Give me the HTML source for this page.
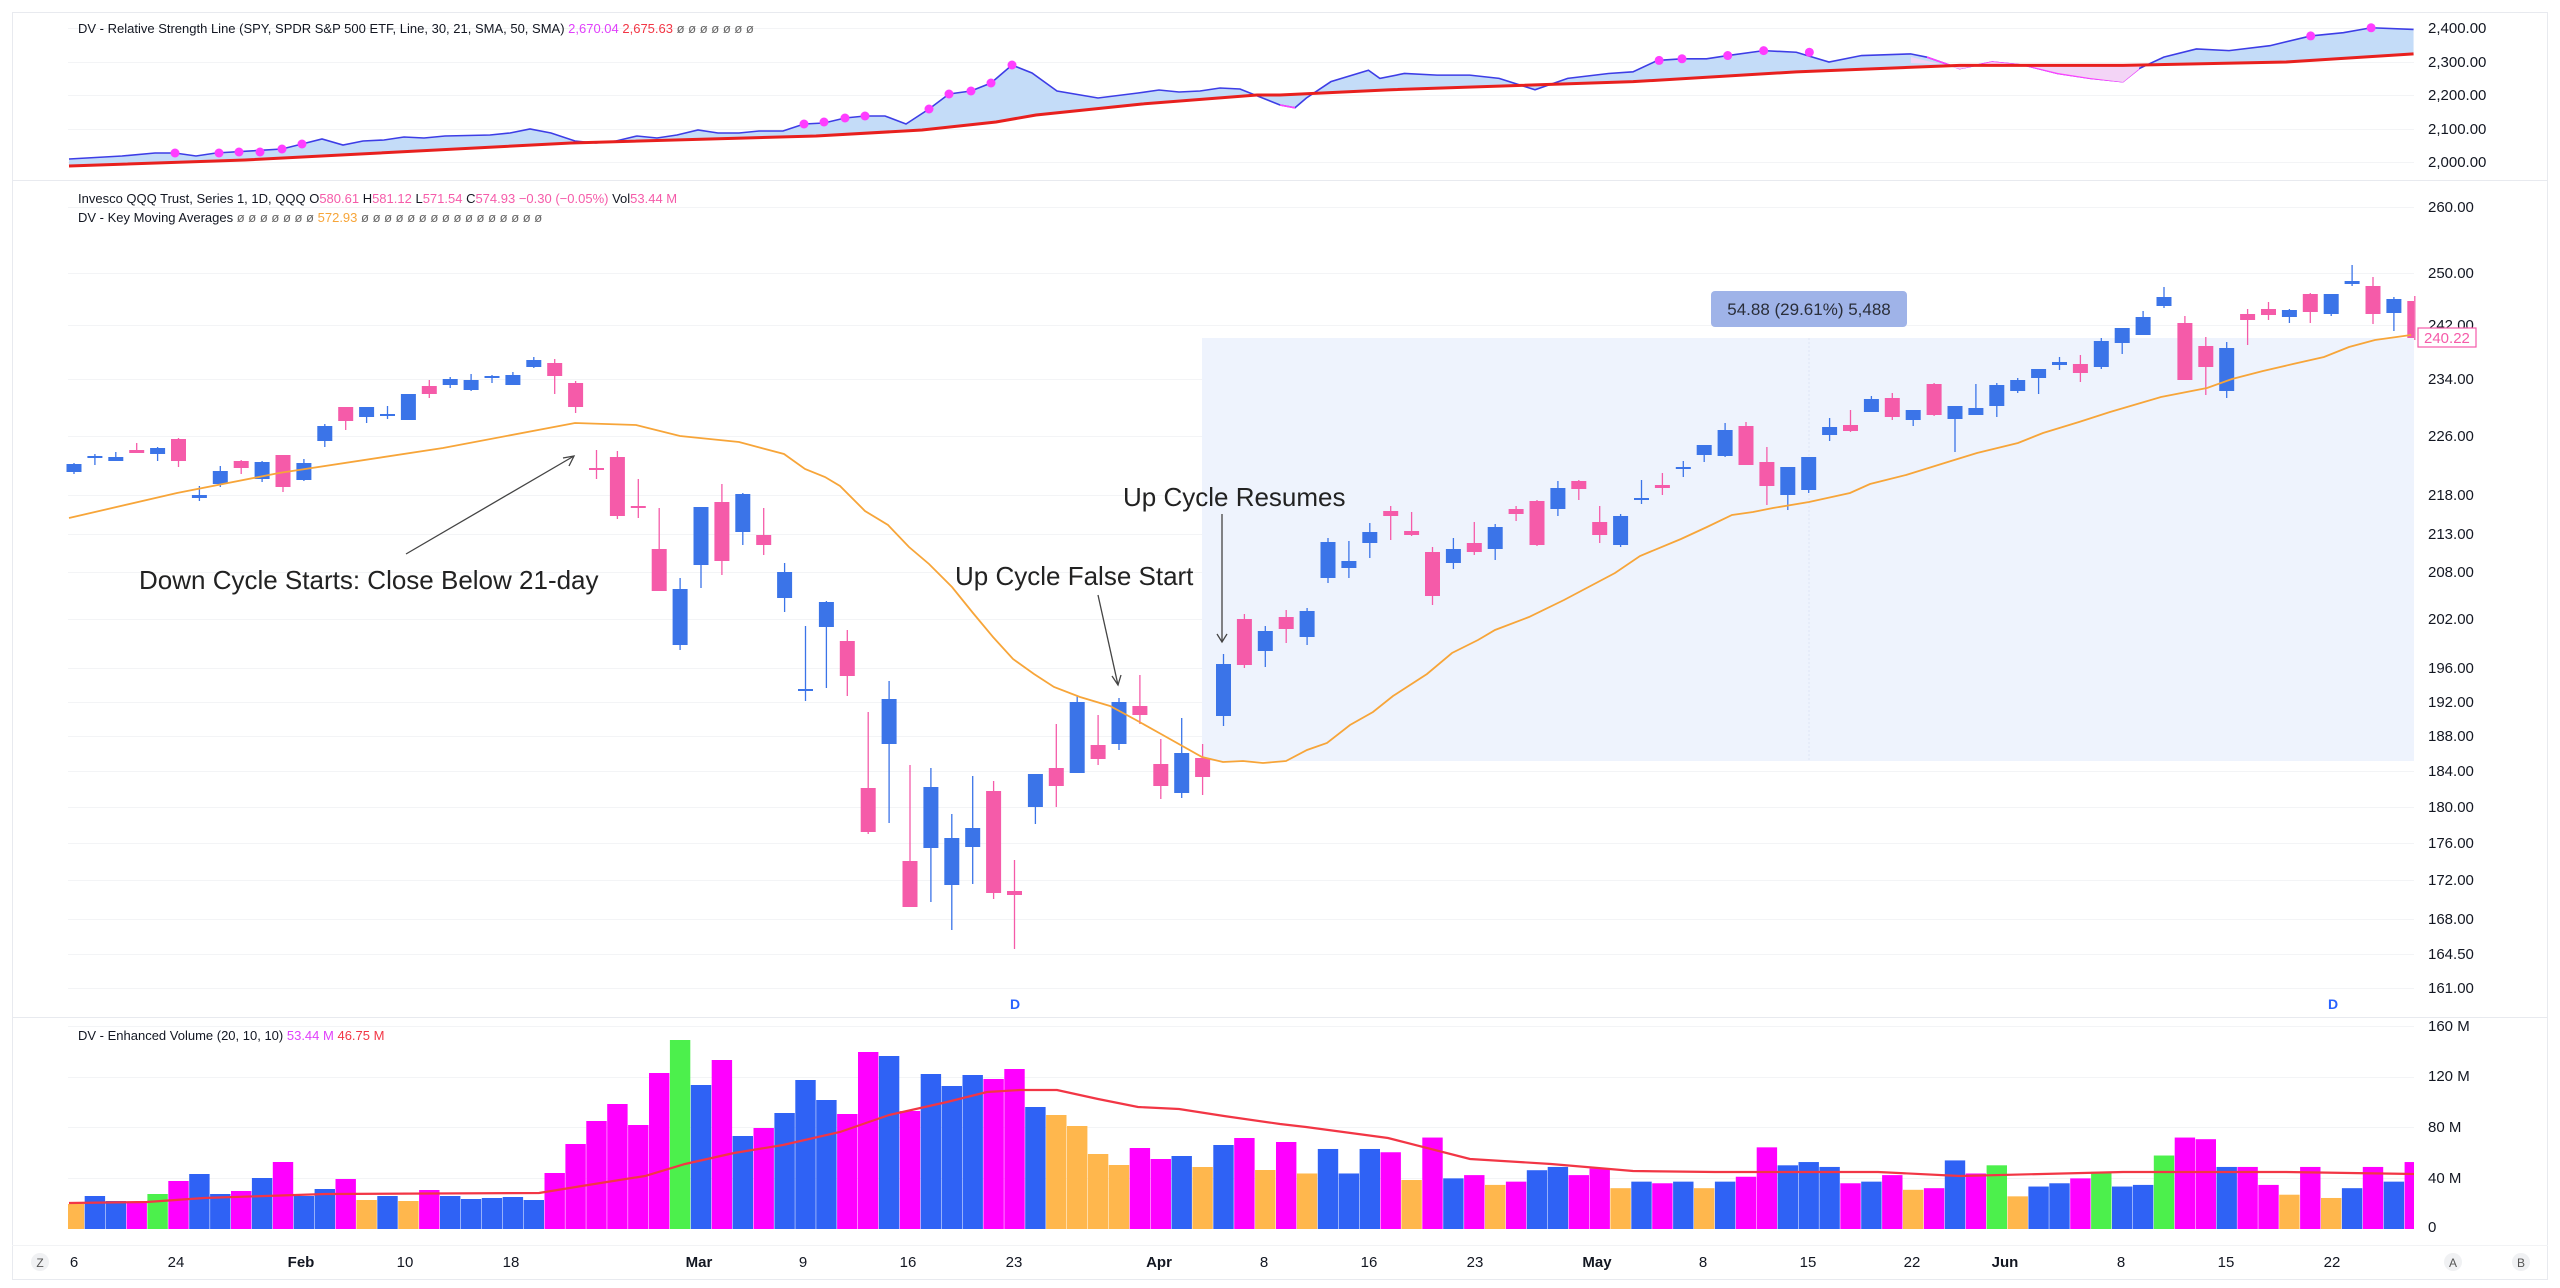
<!DOCTYPE html>
<html><head><meta charset="utf-8">
<style>
html,body{margin:0;padding:0;background:#fff;}
svg{display:block;font-family:"Liberation Sans",sans-serif;}
</style></head>
<body>
<svg id="s" width="2560" height="1288" viewBox="0 0 2560 1288" xmlns="http://www.w3.org/2000/svg">
<rect x="0" y="0" width="2560" height="1288" fill="#fff"/>
<rect x="12.5" y="12.5" width="2535" height="1267" fill="none" stroke="#e8eaef" stroke-width="1"/>
<line x1="12" y1="180.5" x2="2548" y2="180.5" stroke="#e8eaef"/>
<line x1="12" y1="1017.5" x2="2548" y2="1017.5" stroke="#e8eaef"/>
<line x1="12" y1="1245.5" x2="2548" y2="1245.5" stroke="#f2f3f5"/>
<g id="grid" stroke="#f3f4f6" stroke-width="1"></g>
<rect x="1202" y="338" width="1212" height="423" fill="#eef3fd"/>
<line x1="1809" y1="338" x2="1809" y2="761" stroke="#dfe6f5" stroke-width="1" stroke-dasharray="2,2"/>
<g id="top"></g>
<g id="vol"></g>
<g id="cand"></g>
<g id="ma"></g>

<!-- annotations -->
<g font-size="26" fill="#222">
<text x="139" y="589">Down Cycle Starts: Close Below 21-day</text>
<text x="955" y="585">Up Cycle False Start</text>
<text x="1123" y="506">Up Cycle Resumes</text>
</g>
<g stroke="#444" stroke-width="1.3" fill="none">
<line x1="406" y1="554" x2="574" y2="456"/><polyline points="563,458 574,456 569,466"/>
<line x1="1098" y1="595" x2="1118" y2="685"/><polyline points="1112,676 1118,685 1121,675"/>
<line x1="1222" y1="514" x2="1222" y2="642"/><polyline points="1217,634 1222,642 1227,634"/>
</g>
<rect x="1711" y="291" width="196" height="36" rx="4" fill="#9fb3e8"/>
<text x="1809" y="315" font-size="17" fill="#2a2e39" text-anchor="middle">54.88 (29.61%) 5,488</text>

<!-- titles -->
<g font-size="13" fill="#131722">
<text x="78" y="33">DV - Relative Strength Line (SPY, SPDR S&amp;P 500 ETF, Line, 30, 21, SMA, 50, SMA) <tspan fill="#e040fb">2,670.04</tspan> <tspan fill="#f23645">2,675.63</tspan> <tspan fill="#666">ø ø ø ø ø ø ø</tspan></text>
<text x="78" y="203">Invesco QQQ Trust, Series 1, 1D, QQQ <tspan>O</tspan><tspan fill="#f55ba9">580.61</tspan> H<tspan fill="#f55ba9">581.12</tspan> L<tspan fill="#f55ba9">571.54</tspan> C<tspan fill="#f55ba9">574.93</tspan> <tspan fill="#f55ba9">−0.30 (−0.05%)</tspan> Vol<tspan fill="#f55ba9">53.44 M</tspan></text>
<text x="78" y="222">DV - Key Moving Averages <tspan fill="#666">ø ø ø ø ø ø ø</tspan> <tspan fill="#f7a539">572.93</tspan> <tspan fill="#666">ø ø ø ø ø ø ø ø ø ø ø ø ø ø ø ø</tspan></text>
<text x="78" y="1040">DV - Enhanced Volume (20, 10, 10) <tspan fill="#e040fb">53.44 M</tspan> <tspan fill="#f23645">46.75 M</tspan></text>
</g>

<!-- right axis -->
<g font-size="15" fill="#131722">
<text x="2428" y="33">2,400.00</text>
<text x="2428" y="67">2,300.00</text>
<text x="2428" y="100">2,200.00</text>
<text x="2428" y="134">2,100.00</text>
<text x="2428" y="167">2,000.00</text>
<text x="2428" y="212">260.00</text>
<text x="2428" y="278">250.00</text>
<text x="2428" y="330">242.00</text>
<text x="2428" y="384">234.00</text>
<text x="2428" y="441">226.00</text>
<text x="2428" y="500">218.00</text>
<text x="2428" y="539">213.00</text>
<text x="2428" y="577">208.00</text>
<text x="2428" y="624">202.00</text>
<text x="2428" y="673">196.00</text>
<text x="2428" y="707">192.00</text>
<text x="2428" y="741">188.00</text>
<text x="2428" y="776">184.00</text>
<text x="2428" y="812">180.00</text>
<text x="2428" y="848">176.00</text>
<text x="2428" y="885">172.00</text>
<text x="2428" y="924">168.00</text>
<text x="2428" y="959">164.50</text>
<text x="2428" y="993">161.00</text>
<text x="2428" y="1031">160 M</text>
<text x="2428" y="1081">120 M</text>
<text x="2428" y="1132">80 M</text>
<text x="2428" y="1183">40 M</text>
<text x="2428" y="1232">0</text>
</g>
<rect x="2418" y="328" width="58" height="19" fill="#fff" stroke="#f55ba9" stroke-width="1.2"/>
<text x="2424" y="343" font-size="15" fill="#f55ba9">240.22</text>

<g font-size="14" fill="#2962ff" font-weight="bold">
<text x="1010" y="1009">D</text><text x="2328" y="1009">D</text>
</g>

<!-- date axis -->
<g font-size="15" fill="#131722" text-anchor="middle">
<text x="74" y="1267">6</text>
<text x="176" y="1267">24</text>
<text x="301" y="1267" font-weight="bold">Feb</text>
<text x="405" y="1267">10</text>
<text x="511" y="1267">18</text>
<text x="699" y="1267" font-weight="bold">Mar</text>
<text x="803" y="1267">9</text>
<text x="908" y="1267">16</text>
<text x="1014" y="1267">23</text>
<text x="1159" y="1267" font-weight="bold">Apr</text>
<text x="1264" y="1267">8</text>
<text x="1369" y="1267">16</text>
<text x="1475" y="1267">23</text>
<text x="1597" y="1267" font-weight="bold">May</text>
<text x="1703" y="1267">8</text>
<text x="1808" y="1267">15</text>
<text x="1912" y="1267">22</text>
<text x="2005" y="1267" font-weight="bold">Jun</text>
<text x="2121" y="1267">8</text>
<text x="2226" y="1267">15</text>
<text x="2332" y="1267">22</text>
</g>
<circle cx="40" cy="1262" r="9" fill="#f0f1f3"/><text x="40" y="1267" font-size="12" fill="#555" text-anchor="middle">Z</text>
<circle cx="2453" cy="1262" r="9" fill="#f0f1f3"/><text x="2453" y="1267" font-size="12" fill="#555" text-anchor="middle">A</text>
<circle cx="2521" cy="1262" r="9" fill="#f0f1f3"/><text x="2521" y="1267" font-size="12" fill="#555" text-anchor="middle">B</text>
</svg>
<script>
const NS="http://www.w3.org/2000/svg";
function el(p,t,a){const e=document.createElementNS(NS,t);for(const k in a)e.setAttribute(k,a[k]);p.appendChild(e);return e;}
const X=i=>74+i*20.9;
const g=document.getElementById('grid');
[28,62,95,129,162,207,273,325,379,436,495,534,572,619,668,702,736,771,807,843,880,919,954,988,1026,1077,1127,1178].forEach(y=>el(g,'line',{x1:68,x2:2414,y1:y+.5,y2:y+.5}));
const C=[
[464,472,463,474,'b'],[456,457,454,465,'b'],[457,461,452,461,'b'],[450,453,443,453,'p'],[448,454,447,461,'b'],
[439,461,438,467,'p'],[495,498,486,501,'b'],[471,484,466,487,'b'],[461,468,460,474,'p'],[462,479,461,482,'b'],
[455,487,455,492,'p'],[463,480,459,481,'b'],[426,441,424,447,'b'],[407,421,407,430,'p'],[407,417,407,423,'b'],
[414,415,406,419,'b'],[394,420,394,420,'b'],[386,394,380,398,'p'],[379,385,377,388,'b'],[380,390,374,391,'b'],
[376,378,375,383,'b'],[375,385,372,385,'b'],[360,367,357,368,'b'],[363,376,359,394,'p'],[383,407,381,413,'p'],
[468,470,450,479,'p'],[457,516,451,519,'p'],[506,507,479,518,'p'],[549,591,508,591,'p'],[589,645,578,650,'b'],
[507,565,507,588,'b'],[502,561,484,575,'p'],[494,532,493,545,'b'],[535,545,508,555,'p'],[572,598,563,612,'b'],
[689,690,626,701,'b'],[602,627,601,688,'b'],[641,676,630,696,'p'],[788,832,712,834,'p'],[699,744,681,823,'b'],
[861,907,765,907,'p'],[787,848,768,902,'b'],[838,885,814,930,'b'],[828,847,776,884,'b'],[791,893,781,899,'p'],
[891,895,860,949,'p'],[774,807,774,824,'b'],[768,786,724,807,'p'],[702,773,696,773,'b'],[745,759,715,765,'p'],
[702,744,698,750,'b'],[706,715,675,724,'p'],[764,786,739,799,'p'],[753,793,718,798,'b'],[758,777,744,795,'p'],
[664,716,654,726,'b'],[619,665,614,668,'p'],[631,651,626,667,'b'],[617,629,610,643,'p'],[611,637,608,645,'b'],
[542,578,538,583,'b'],[561,568,541,578,'b'],[532,543,523,558,'b'],[511,516,506,540,'p'],[531,535,512,536,'p'],
[552,596,547,605,'p'],[549,563,538,569,'b'],[543,552,522,555,'p'],[527,549,524,560,'b'],[509,514,506,521,'p'],
[501,545,500,546,'p'],[488,509,481,516,'b'],[481,489,480,500,'p'],[522,535,506,543,'p'],[516,545,514,547,'b'],
[498,500,480,504,'b'],[485,488,473,495,'p'],[467,468,461,477,'b'],[445,455,445,462,'b'],[430,456,423,457,'b'],
[426,465,422,465,'p'],[462,486,447,505,'p'],[467,495,467,510,'b'],[457,490,457,493,'b'],[427,435,418,441,'b'],
[425,431,410,432,'p'],[399,412,396,412,'b'],[398,417,393,420,'p'],[410,420,410,426,'b'],[384,415,383,416,'p'],
[406,419,406,452,'b'],[408,415,384,415,'b'],[385,406,383,417,'b'],[380,391,378,393,'b'],[369,378,369,394,'b'],
[362,365,357,370,'b'],[364,373,355,382,'p'],[341,367,338,369,'b'],[328,343,328,354,'b'],[317,335,311,335,'b'],
[297,306,287,308,'b'],[323,380,316,380,'p'],[346,367,337,395,'p'],[348,391,342,398,'b'],[314,320,309,345,'p'],
[309,315,302,320,'p'],[310,317,309,323,'b'],[294,312,293,323,'p'],[294,314,294,316,'b'],[281,284,265,286,'b'],
[286,314,277,324,'p'],[299,313,297,331,'b'],[301,338,296,340,'p']];
const cg=document.getElementById('cand');
C.forEach((c,i)=>{const x=X(i);const col=c[4]=='b'?'#3b74e8':'#f55ba9';
 let w=15; let x0=x-7.5; if(x0+w>2414){w=2414-x0;}
 el(cg,'line',{x1:x,x2:x,y1:c[2],y2:c[3],stroke:col,'stroke-width':1.3});
 el(cg,'rect',{x:x0,y:c[0],width:w,height:Math.max(2,c[1]-c[0]),fill:col});});
const MA=[[69,518],[177,493],[279,473],[443,448],[575,423],[636,425],[680,436],[739,442],[784,454],[805,469],[825,477],[840,486],[865,511],[888,525],[909,547],[929,564],[952,587],[973,613],[993,637],[1013,659],[1034,674],[1054,687],[1080,697],[1110,706],[1136,720],[1161,734],[1202,757],[1223,762],[1243,761],[1263,763],[1286,761],[1307,750],[1327,743],[1350,725],[1373,712],[1393,696],[1427,674],[1452,653],[1478,640],[1495,630],[1529,617],[1564,600],[1615,573],[1640,556],[1681,539],[1707,527],[1732,515],[1753,512],[1773,508],[1809,502],[1850,493],[1870,484],[1906,475],[1951,461],[1977,453],[2018,443],[2043,433],[2079,422],[2110,412],[2161,397],[2207,388],[2232,379],[2263,371],[2293,364],[2324,357],[2349,347],[2375,340],[2411,335]];
el(document.getElementById('ma'),'polyline',{points:MA.map(p=>p.join(',')).join(' '),fill:'none',stroke:'#f7a539','stroke-width':1.8});
const VC={O:'#ffb74d',B:'#2f62f5',M:'#ff00ff',G:'#4cf04c'};
const V=[['O',25],['B',33],['B',28],['M',26],['G',35],['M',48],['B',55],['B',35],['M',38],['B',51],['M',67],['B',33],['B',40],['M',50],['O',29],['B',33],['O',28],['M',39],['B',33],['B',30],['B',31],['B',32],['B',29],['M',56],['M',85],['M',108],['M',125],['M',104],['M',156],['G',189],['B',144],['M',169],['B',93],['M',101],['B',116],['B',149],['B',129],['M',115],['M',177],['B',173],['M',118],['B',155],['B',143],['B',154],['M',150],['M',160],['B',122],['O',114],['O',103],['O',75],['O',64],['M',81],['M',70],['B',73],['O',62],['B',84],['M',91],['O',59],['M',87]];
const VT=[['O',717],['B',702],['B',717],['B',702],['M',704],['O',721],['M',695],['B',720],['M',718],['O',724],['M',722],['B',715],['B',713],['M',718],['M',714],['O',726],['B',722],['M',723],['B',722],['O',726],['B',722],['M',719],['M',701],['B',712],['B',710],['B',713],['M',723],['B',722],['M',718],['O',727],['M',726],['B',709],['M',717],['G',712],['O',731],['B',725],['B',723],['M',720],['G',716],['B',725],['B',724],['G',706],['M',695],['M',696],['B',713],['M',713],['M',724],['O',730],['M',713],['O',732],['B',726],['M',713],['B',722],['M',710]];
VT.forEach(v=>V.push([v[0],(751-v[1])*1.633]));
const vg=document.getElementById('vol');
const base=1229;
V.forEach((v,i)=>{let x0=X(i)-10.2,w=20.4;if(x0<68){w-=68-x0;x0=68;}if(x0+w>2414)w=2414-x0;
 el(vg,'rect',{x:x0,y:base-v[1],width:w,height:v[1],fill:VC[v[0]]});});
const VMA=[[69,1203],[147,1202],[204,1198],[326,1194],[539,1193],[588,1185],[645,1176],[685,1164],[734,1153],[783,1145],[840,1132],[889,1115],[947,1102],[987,1092],[1020,1090],[1057,1090],[1098,1099],[1138,1107],[1179,1109],[1224,1116],[1280,1124],[1306,1127],[1388,1138],[1470,1159],[1551,1164],[1633,1171],[1715,1172],[1796,1172],[1878,1172],[1960,1176],[2123,1172],[2286,1172],[2414,1174]];
el(vg,'polyline',{points:VMA.map(p=>p.join(',')).join(' '),fill:'none',stroke:'#f23645','stroke-width':2.2});
const tg=document.getElementById('top');
const s=1.633;
let RS=[[69,159],[122,156],[155,153],[175,153],[196,156],[216,153],[282,149],[302,144],[322,139],[343,145],[363,141],[384,140],[404,137],[424,138],[445,136],[490,135],[510,133],[530,129],[551,133],[575,141],[596,143],[616,141],[637,136],[657,138],[677,135],[698,130],[718,133],[739,133],[759,131],[783,131],[804,124],[824,123],[845,118],[865,116],[885,116],[906,124],[929,109],[949,94],[971,91],[991,83],[1012,65],[1032,73],[1057,91],[1098,98],[1138,93],[1159,90],[1179,92],[1200,91],[1220,88],[1240,89],[1280,105]];
[[793,66],[800,60],[815,50],[838,43],[845,48],[860,45],[880,46],[900,46],[918,48],[940,55],[960,48],[985,45],[1000,44],[1015,37],[1030,36],[1045,36],[1058,34],[1080,31],[1100,32],[1120,38],[1140,34],[1170,33],[1180,35],[1200,42],[1220,38],[1240,40],[1260,45],[1280,48],[1300,50],[1310,42],[1325,35],[1345,30],[1365,31],[1390,28],[1415,22],[1435,20],[1452,17],[1478,18]].forEach(p=>RS.push([p[0]*s,p[1]*s]));
let RM=[[69,166],[245,160],[571,143],[816,136],[922,130],[996,122],[1036,115],[1142,104],[1257,95],[1280,95]];
[[850,55],[1000,50],[1100,44],[1200,40],[1300,40],[1400,38],[1478,33]].forEach(p=>RM.push([p[0]*s,p[1]*s]));
const poly=RS.concat(RM.slice().reverse());
el(tg,'polygon',{points:poly.map(p=>p.join(',')).join(' '),fill:'#c4dcf8'});
el(tg,'polyline',{points:RS.map(p=>p.join(',')).join(' '),fill:'none',stroke:'#3d3de6','stroke-width':1.6});
el(tg,'polyline',{points:RS.filter(p=>p[0]>=1265&&p[0]<=1300).map(p=>p.join(',')).join(' '),fill:'none',stroke:'#ff40ff','stroke-width':1.6});
el(tg,'polyline',{points:RS.filter(p=>p[0]>=1911&&p[0]<=2140).map(p=>p.join(',')).join(' '),fill:'none',stroke:'#ff40ff','stroke-width':1.6});
el(tg,'polygon',{points:'1911,57 1960,69 1992,62 2025,65 2058,73 2090,78 2123,82 2139,69 2139,65 2058,65 1960,65 1911,63',fill:'#f3d4f6'});
el(tg,'polyline',{points:RM.map(p=>p.join(',')).join(' '),fill:'none',stroke:'#e8201e','stroke-width':3});
[[175,153],[219,153],[239,152],[260,152],[282,149],[302,144],[804,124],[824,122],[845,118],[865,116],[929,109],[949,94],[971,91],[991,83],[1012,65],[1016*s,37*s],[1030*s,36*s],[1058*s,34*s],[1080*s,31*s],[1108*s,32*s],[1415*s,22*s],[1452*s,17*s]].forEach(p=>el(tg,'circle',{cx:p[0],cy:p[1],r:4.5,fill:'#ff3dff'}));
</script>
</body></html>
